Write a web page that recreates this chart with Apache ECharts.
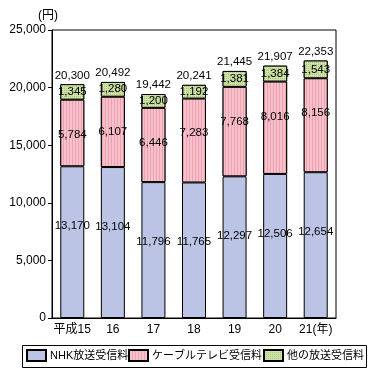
<!DOCTYPE html>
<html><head><meta charset="utf-8">
<script src="https://cdn.jsdelivr.net/npm/echarts@6/dist/echarts.min.js"></script>
<style>html,body{margin:0;padding:0;background:#fff}#c{width:374px;height:377px}</style>
</head><body><div id="c"></div>
<script>
const categories = ['平成15', '16', '17', '18', '19', '20', '21(年)'];
const nhk = [13170, 13104, 11796, 11765, 12297, 12506, 12654];
const cable = [5784, 6107, 6446, 7283, 7768, 8016, 8156];
const other = [1345, 1280, 1200, 1192, 1381, 1384, 1543];
const totals = [20300, 20492, 19442, 20241, 21445, 21907, 22353];
const yTicks = [0, 5000, 10000, 15000, 20000, 25000];
const seriesNames = ['NHK放送受信料', 'ケーブルテレビ受信料', '他の放送受信料'];

const FONT = 'Liberation Sans, Noto Sans CJK JP, sans-serif';
const fmt = v => v.toLocaleString('en-US');
const chart = echarts.init(document.getElementById('c'));
const labelBase = {show: true, color: '#000', fontSize: 11.5, fontFamily: FONT};
chart.setOption({
  animation: false,
  textStyle: {fontFamily: FONT},
  grid: {left: 52, right: 38, top: 30, bottom: 59, show: true, borderColor: '#000', borderWidth: 1},
  xAxis: {
    type: 'category', data: categories,
    axisLine: {lineStyle: {color: '#000', width: 1}},
    axisTick: {inside: true, length: 6, lineStyle: {color: '#000'}},
    axisLabel: {color: '#000', fontSize: 12, margin: 6, interval: 0, fontFamily: FONT}
  },
  yAxis: {
    type: 'value', min: yTicks[0], max: yTicks[yTicks.length - 1], interval: 5000,
    name: '(円)', nameLocation: 'end', nameGap: 8,
    nameTextStyle: {color: '#000', fontSize: 12, align: 'center', padding: [0, 8, 0, 0], fontFamily: FONT},
    axisLine: {show: true, lineStyle: {color: '#000'}},
    axisTick: {show: true, length: 4, lineStyle: {color: '#000'}},
    splitLine: {show: false},
    axisLabel: {color: '#000', fontSize: 12, margin: 6, formatter: v => fmt(v), fontFamily: FONT}
  },
  legend: [
    {data: [seriesNames[0]], left: 26, top: 349},
    {data: [seriesNames[1]], left: 128, top: 349},
    {data: [seriesNames[2]], left: 263, top: 349}
  ].map(l => Object.assign(l, {icon: 'rect', itemWidth: 19, itemHeight: 11, itemGap: 4, padding: 0,
      textStyle: {color: '#000', fontSize: 11, fontFamily: FONT, padding: [0, 0, 0, -1]}})),
  graphic: [{type: 'rect', left: 20, top: 343, shape: {width: 344, height: 22},
    style: {fill: 'none', stroke: '#000', lineWidth: 1}}],
  series: [
    {name: seriesNames[0], type: 'bar', stack: 't', barWidth: 24, data: nhk,
      itemStyle: {color: '#bbc4e4', borderColor: '#000', borderWidth: 1},
      label: Object.assign({}, labelBase, {position: 'insideTop', distance: 54, formatter: p => fmt(p.value)})},
    {name: seriesNames[1], type: 'bar', stack: 't', data: cable,
      itemStyle: {color: '#f6b3bf', borderColor: '#000', borderWidth: 1,
        decal: {symbol: 'rect', symbolSize: 1, dashArrayX: [1, 2], dashArrayY: [1, 0], color: '#eda2b0', backgroundColor: '#f8c0ca'}},
      label: Object.assign({}, labelBase, {position: 'insideTop', distance: 29, formatter: p => fmt(p.value)})},
    {name: seriesNames[2], type: 'bar', stack: 't', data: other,
      itemStyle: {color: '#bdd590', borderColor: '#000', borderWidth: 1,
        decal: {symbol: 'rect', symbolSize: 1, dashArrayX: [1, 1], dashArrayY: [1, 1], color: '#abc67e', backgroundColor: '#cfe2a8'}},
      label: Object.assign({}, labelBase, {position: 'inside', formatter: p => fmt(p.value)})},
    {name: 'total', type: 'bar', stack: 't', data: totals.map(() => 0),
      itemStyle: {color: 'transparent', borderWidth: 0},
      label: Object.assign({}, labelBase, {position: 'top', distance: 3, formatter: p => fmt(totals[p.dataIndex])})}
  ]
});
</script></body></html>
